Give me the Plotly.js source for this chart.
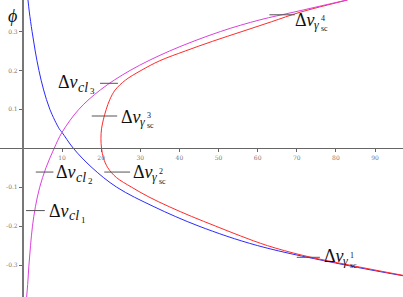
<!DOCTYPE html>
<html>
<head>
<meta charset="utf-8">
<script src="https://cdn.plot.ly/plotly-3.0.1.min.js"></script>
<style>html,body{margin:0;padding:0;background:#fff;}#chart{width:403px;height:297px;}</style>
</head>
<body>
<div id="chart"></div>
<script>
// ---- data ----
const blueY = [0.381, 0.35, 0.30, 0.25, 0.20, 0.15, 0.10, 0.05, 0.041, 0, -0.05, -0.10, -0.15, -0.20, -0.25, -0.30, -0.328];
const blueX = [1.3, 1.65, 2.35, 3.15, 4.1, 5.3, 6.9, 9.3, 10, 12.9, 17.7, 24, 33.5, 45, 60, 82.5, 97.5];

const magentaY = [-0.382, -0.35, -0.30, -0.25, -0.20, -0.15, -0.10, -0.05, 0, 0.041, 0.10, 0.15, 0.20, 0.25, 0.30, 0.33, 0.35, 0.381];
const magentaX = [0.96, 1.22, 1.55, 1.95, 2.45, 3.2, 4.3, 5.9, 8.0, 10, 14.3, 19.8, 27.4, 37.5, 50.5, 60.6, 69.3, 82.8];

const redY = [0.381, 0.35, 0.325, 0.30, 0.275, 0.25, 0.225, 0.20, 0.175, 0.15, 0.125, 0.10, 0.075, 0.05, 0.025, 0, -0.025, -0.05, -0.075, -0.10, -0.125, -0.15, -0.175, -0.20, -0.225, -0.25, -0.275, -0.30, -0.327];
const redX = [83.0, 71.0, 63.5, 56.0, 48.5, 41.5, 35.0, 30.2, 26.2, 23.6, 22.2, 21.3, 20.6, 20.1, 19.95, 20.1, 20.6, 21.7, 23.9, 27.8, 32.2, 37.4, 43.1, 49.3, 55.6, 62.5, 71.5, 83.5, 97.5];

const xTicks = [10, 20, 30, 40, 50, 60, 70, 80, 90];
const yTicks = [-0.3, -0.2, -0.1, 0.1, 0.2, 0.3];
const yTickText = ["-0.3", "-0.2", "-0.1", "0.1", "0.2", "0.3"];

// label names: [kind, index]
const labelNames = [["cl", "3"], ["g", "3"], ["cl", "2"], ["g", "2"], ["cl", "1"], ["g", "1"], ["g", "4"]];

// ---- layout / styling ----
const xr = [-5.85, 97.15];
const yr = [-0.382, 0.381];

// label anchor positions (layout), same order as labelNames
const labelPos = [[8.6, 0.170], [24.8, 0.081], [8.3, -0.062], [27.9, -0.062], [6.3, -0.161], [76.6, -0.277], [69.4, 0.330]];
// pointer line segments (layout)
const pointerLines = [[19.7, 24.3, 0.167], [17.6, 24.1, 0.083], [3.3, 7.8, -0.061], [20.8, 27.4, -0.061], [0.8, 5.6, -0.160], [70.0, 75.9, -0.280], [63.0, 69.5, 0.343]];

const serif = "Liberation Serif";
const annotations = [];
function ann(x, y, text, size, dx, dy) {
  annotations.push({x: x, y: y, xref: "x", yref: "y", text: text, showarrow: false,
    xanchor: "left", yanchor: "middle", xshift: dx, yshift: dy, borderpad: 0,
    font: {family: serif, size: size, color: "#111"}});
}
labelNames.forEach(function (ln, i) {
  const p = labelPos[i];
  ann(p[0], p[1], "Δ<i>ν</i>", 18, 0, 0);
  if (ln[0] === "cl") {
    ann(p[0], p[1], "<i>cl</i>", 14, 20, -5);
    ann(p[0], p[1], ln[1], 9, 32, -9);
  } else {
    ann(p[0], p[1], "<i>γ</i>", 12, 19, -5);
    ann(p[0], p[1], ln[1], 8, 26, 1);
    ann(p[0], p[1], "sc", 8, 26, -9);
  }
});
annotations.push({x: 12 / 403, y: 1 - 16 / 297, xref: "paper", yref: "paper", text: "<i>ϕ</i>",
  showarrow: false, xanchor: "center", yanchor: "middle", font: {family: serif, size: 18, color: "#111"}});

const shapes = pointerLines.map(function (s) {
  return {type: "line", xref: "x", yref: "y", x0: s[0], x1: s[1], y0: s[2], y1: s[2], line: {color: "#555", width: 1}};
});

const traces = [
  {x: blueX, y: blueY, mode: "lines", line: {color: "#2a2aff", width: 1, shape: "spline", smoothing: 1}, hoverinfo: "skip"},
  {x: redX, y: redY, mode: "lines", line: {color: "#ff2a2a", width: 1, shape: "spline", smoothing: 1}, hoverinfo: "skip"},
  {x: magentaX, y: magentaY, mode: "lines", line: {color: "#dd40dd", width: 1, shape: "spline", smoothing: 1}, hoverinfo: "skip"}
];

const tickFont = {family: "DejaVu Serif", size: 6, color: "#777"};
const layout = {
  width: 403, height: 297, margin: {l: 0, r: 0, t: 0, b: 0},
  paper_bgcolor: "#fff", plot_bgcolor: "#fff", showlegend: false,
  xaxis: {range: xr, anchor: "free", position: (0 - yr[0]) / (yr[1] - yr[0]),
    showgrid: false, zeroline: false, showline: true, linecolor: "#666", linewidth: 1,
    tickvals: xTicks, ticks: "outside", ticklen: 3, tickcolor: "#666", tickfont: tickFont},
  yaxis: {range: yr, anchor: "free", position: (0 - xr[0]) / (xr[1] - xr[0]),
    showgrid: false, zeroline: false, showline: true, linecolor: "#777", linewidth: 2,
    tickvals: yTicks, ticktext: yTickText, ticks: "outside", ticklen: 3, tickcolor: "#666", tickfont: tickFont},
  annotations: annotations, shapes: shapes
};
Plotly.newPlot("chart", traces, layout, {staticPlot: true, displayModeBar: false});
</script>
</body>
</html>
